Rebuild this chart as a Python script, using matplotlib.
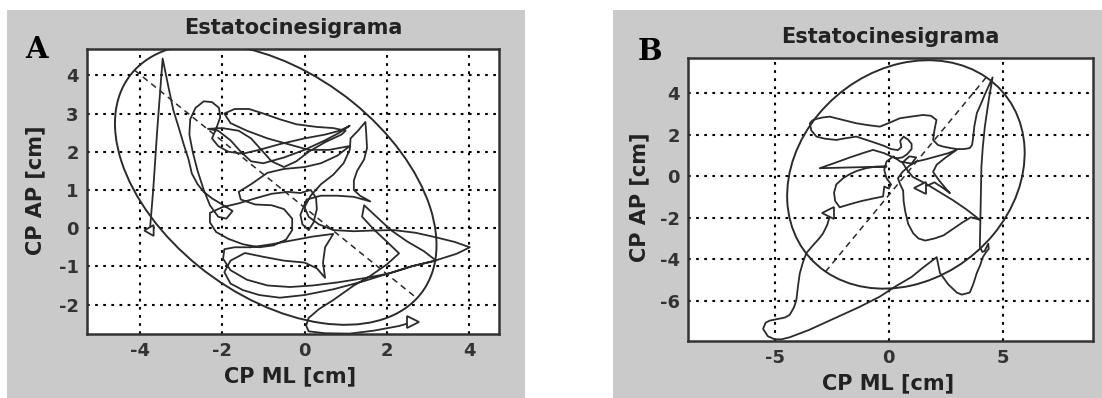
import matplotlib
matplotlib.use("Agg")
import numpy as np
import matplotlib.pyplot as plt
from matplotlib.patches import Rectangle, Ellipse

# ---------------- data ----------------
title_text = "Estatocinesigrama"
xlabel_text = "CP ML [cm]"
ylabel_text = "CP AP [cm]"

# Panel A: centre-of-pressure path (cm), stored in consecutive stretches
a_seg_x = [
    [-3.76, -3.68, -3.58, -3.45, -3.32, -3.19, -3.05, -2.94, -2.82, -2.74, -2.6, -2.45, -2.25, -2.05, -1.75],
    [-1.9, -2.1, -2.3, -2.45, -2.6, -2.72, -2.8, -2.78, -2.65, -2.45, -2.25, -2.08, -2.05, -2.15, -2.25, -2.1, -1.85],
    [-1.5, -1.1, -0.6, 0.0, 0.5, 0.85, 1.1, 0.85, 0.5, 0.0, -0.5, -1.0, -1.3, -1.55, -1.8, -2.1, -2.35, -2.0,
     -1.6, -1.3, -1.05, -0.8, -0.5],
    [-0.2, 0.1, 0.5, 0.9, 1.0, 0.7, 0.3, -0.2, -0.6, -1.0, -1.35, -1.7, -1.95, -1.8, -1.4, -0.9, -0.4, 0.1,
     0.6, 1.1, 0.8, 0.4, 0.0, -0.5],
    [-0.9, -1.3, -1.6, -1.55, -1.2, -0.8, -0.5, -0.3, -0.3, -0.45, -0.75, -1.1, -1.5, -1.85, -2.15, -2.3, -2.3,
     -2.0, -1.6, -1.2, -0.8, -0.4, -0.1, 0.15, 0.28, 0.3, 0.22, 0.1, -0.05, -0.1, 0.05, 0.4, 0.8, 1.2, 1.6],
    [1.35, 1.2, 1.2, 1.28, 1.45, 1.52, 1.5, 1.48, 1.3, 1.12, 1.1, 0.95, 0.7, 0.4, 0.15, 0.0, 0.1, 0.35, 0.7, 1.2,
     1.7, 2.17, 2.7, 3.2, 3.65, 4.02, 3.7, 3.2, 2.6, 2.08, 1.5, 0.8, 0.2, -0.35, -0.9, -1.4, -1.8, -1.98, -1.95,
     -1.7, -1.3, -0.8, -0.3, 0.2, 0.7],
    [0.5, 0.45, 0.5, 0.3, 0.0, -0.5, -1.0, -1.45, -1.8, -1.95, -1.8, -1.5, -1.1, -0.6, 0.0, 0.7, 1.4, 2.0, 2.6, 3.2],
    [2.9, 2.5, 2.1, 1.75, 1.45, 1.4, 1.7, 2.0, 2.3, 2.0, 1.6, 1.2, 0.7, 0.35, 0.1, 0.04, 0.1, 0.5, 1.1, 1.7,
     2.3, 2.65],
]
a_seg_y = [
    [-0.05, 1.0, 2.6, 4.44, 3.75, 3.09, 2.6, 2.2, 1.8, 1.43, 1.15, 0.95, 0.78, 0.65, 0.45],
    [0.25, 0.3, 0.6, 1.0, 1.5, 2.0, 2.45, 2.85, 3.15, 3.32, 3.3, 3.15, 2.9, 2.6, 2.35, 2.15, 2.0],
    [1.95, 2.05, 2.2, 2.35, 2.45, 2.55, 2.68, 2.5, 2.3, 2.05, 1.85, 1.7, 1.75, 2.0, 2.3, 2.55, 2.6, 2.62,
     2.55, 2.35, 2.05, 1.75, 1.6],
    [1.75, 2.0, 2.25, 2.45, 2.55, 2.62, 2.65, 2.72, 2.85, 3.0, 3.12, 3.12, 3.0, 2.75, 2.55, 2.35, 2.2, 2.05,
     2.05, 2.15, 1.9, 1.7, 1.6, 1.55],
    [1.45, 1.15, 0.95, 0.75, 0.62, 0.6, 0.5, 0.25, -0.05, -0.3, -0.45, -0.5, -0.42, -0.28, -0.1, 0.15, 0.4,
     0.55, 0.65, 0.78, 0.9, 0.95, 0.92, 1.0, 0.8, 0.5, 0.15, -0.05, 0.1, 0.35, 0.75, 0.85, 0.85, 0.82, 0.7],
    [0.85, 1.0, 1.25, 1.5, 1.8, 2.1, 2.5, 2.78, 2.55, 2.35, 2.05, 1.7, 1.4, 1.15, 0.85, 0.55, 0.3, 0.1, -0.05, -0.08,
     -0.06, -0.05, -0.12, -0.24, -0.36, -0.5, -0.67, -0.84, -1.0, -1.18, -1.3, -1.42, -1.5, -1.54, -1.5, -1.35,
     -1.1, -0.8, -0.55, -0.5, -0.5, -0.42, -0.32, -0.22, -0.15],
    [-0.5, -0.9, -1.3, -1.05, -0.9, -0.85, -0.75, -0.65, -0.85, -1.15, -1.45, -1.62, -1.75, -1.82, -1.75, -1.6,
     -1.4, -1.2, -1.0, -0.85],
    [-0.6, -0.35, -0.05, 0.3, 0.6, 0.3, -0.05, -0.35, -0.66, -0.95, -1.25, -1.5, -1.88, -2.12, -2.35, -2.55,
     -2.7, -2.75, -2.76, -2.68, -2.56, -2.45],
]

# Panel A: confidence ellipse (centre, semi-axes, angle in degrees)
a_ell_center = (-0.7, 1.15)
a_ell_axes = (4.55, 2.85)
a_ell_angle = -41.0

# Panel B: centre-of-pressure path (cm)
b_seg_x = [
    [1.36, 1.7, 2.0, 2.35, 2.68, 2.5, 2.2, 1.94, 2.1, 2.5, 2.97, 2.6, 2.1, 1.6, 1.2, 0.9, 0.6, 0.4, 0.5, 0.63,
     0.65, 0.72, 0.85, 1.07, 1.3, 1.6, 2.0, 2.4, 2.8, 3.2, 3.6, 3.99, 3.4, 2.8, 2.2, 1.6, 1.05],
    [0.8, 0.6, 0.9, 1.2, 1.0, 0.5, 0.2, -0.1, -0.2, -0.1, 0.1, 0.0, -0.2, -0.25, -0.7, -1.2, -1.7, -2.15, -2.35,
     -2.4, -2.3, -2.0, -1.7, -1.4, -1.0, -0.6, -0.1, -0.8, -1.5, -2.3, -3.03, -2.4, -1.7, -1.1, -0.69, -0.2,
     0.3, 0.6, 0.8, 1.0, 1.0, 0.85, 0.65, 0.5, 0.55, 0.4, 0.1, -0.2],
    [-0.54, -1.0, -1.42, -1.9, -2.3, -2.8, -3.17, -3.4, -3.46, -3.35, -3.17, -2.9, -2.59, -2.0, -1.42, -0.9,
     -0.39, 0.0, 0.48, 0.9, 1.5, 1.85, 2.09, 2.0, 1.94, 2.15, 2.38, 2.7, 2.98, 3.3, 3.55, 3.65, 3.69, 3.75,
     3.86, 4.05, 4.2, 4.55],
    [4.4, 4.21, 4.12, 4.06, 4.04, 4.02, 4.0, 3.99, 4.1, 4.2, 4.36, 4.38, 4.3, 4.12, 4.0, 3.86, 3.7, 3.55, 3.2,
     2.98, 2.6, 2.24, 2.1],
    [1.5, 1.0, 0.3, -0.4, -1.3, -2.5, -3.5, -4.34, -4.7, -5.0, -5.3, -5.51, -5.4, -5.22, -4.9, -4.55, -4.34,
     -4.15, -4.05, -3.98, -3.9, -3.75, -3.61, -3.3, -3.05, -2.88, -2.7, -2.59, -2.66],
]
b_seg_y = [
    [-0.58, -0.45, -0.3, -0.55, -0.82, -0.6, -0.2, 0.2, 0.55, 0.9, 1.26, 1.1, 0.95, 0.8, 0.7, 0.5, 0.2, -0.1,
     -0.4, -0.7, -1.2, -1.7, -2.3, -2.75, -3.0, -3.1, -3.0, -2.85, -2.55, -2.25, -1.98, -2.1, -1.6, -1.15,
     -0.75, -0.35, -0.04],
    [0.3, 0.65, 0.95, 0.9, 0.6, 0.7, 0.95, 0.7, 0.3, -0.1, -0.4, -0.6, -0.5, -0.98, -1.08, -1.2, -1.35, -1.5,
     -1.2, -0.8, -0.4, -0.1, 0.1, 0.25, 0.38, 0.45, 0.46, 0.44, 0.42, 0.4, 0.38, 0.62, 0.9, 1.12, 1.26, 1.1,
     0.85, 0.9, 1.05, 1.3, 1.55, 1.75, 1.9, 1.7, 1.4, 1.25, 1.3, 1.45],
    [1.58, 1.75, 1.9, 1.82, 1.74, 1.8, 1.9, 2.2, 2.54, 2.68, 2.75, 2.82, 2.86, 2.7, 2.54, 2.45, 2.38, 2.55,
     2.78, 2.85, 2.94, 2.9, 2.7, 2.2, 1.74, 1.5, 1.42, 1.35, 1.3, 1.3, 1.35, 1.5, 1.8, 2.4, 3.03, 3.5, 3.9,
     4.75],
    [3.8, 2.38, 1.4, 0.46, -0.6, -1.5, -2.5, -3.4, -3.65, -3.6, -3.25, -3.5, -3.6, -3.9, -4.3, -4.65, -5.2,
     -5.6, -5.7, -5.6, -5.2, -4.65, -3.9],
    [-4.4, -4.85, -5.3, -5.8, -6.3, -6.9, -7.4, -7.75, -7.85, -7.85, -7.7, -7.35, -7.05, -6.95, -6.88, -6.8,
     -6.67, -6.3, -5.95, -5.3, -4.67, -4.1, -3.7, -3.3, -3.0, -2.75, -2.35, -1.95, -1.79],
]

b_ell_center = (0.75, 0.08)
b_ell_axes = (5.85, 4.8)
b_ell_angle = 53.0

a_xticks = [-4, -2, 0, 2, 4]
a_yticks = [-2, -1, 0, 1, 2, 3, 4]
b_xticks = [-5, 0, 5]
b_yticks = [-6, -4, -2, 0, 2, 4]

a_x = np.concatenate(a_seg_x)
a_y = np.concatenate(a_seg_y)
b_x = np.concatenate(b_seg_x)
b_y = np.concatenate(b_seg_y)

# ---------------- layout ----------------
W, H = 1102, 398
fig = plt.figure(figsize=(W / 100, H / 100), dpi=100)
fig.patch.set_facecolor("white")

panel_grey = "#cacaca"
ink = "#2b2b2b"
fig.patches.append(Rectangle((7 / W, 0), 518 / W, 388 / H, transform=fig.transFigure,
                             facecolor=panel_grey, edgecolor="none", zorder=-10))
fig.patches.append(Rectangle((613 / W, 0), 489 / W, 388 / H, transform=fig.transFigure,
                             facecolor=panel_grey, edgecolor="none", zorder=-10))


def px_axes(left, top, right, bottom):
    return [left / W, (H - bottom) / H, (right - left) / W, (bottom - top) / H]


def draw_panel(ax, xs, ys, center, axes_len, angle, xlim, ylim, xticks, yticks,
               start_marker, end_marker, letter, letter_xy, xlab_xy, ylab_xy):
    ax.set_facecolor("white")
    ax.set_xlim(*xlim)
    ax.set_ylim(*ylim)
    ax.set_xticks(xticks)
    ax.set_yticks(yticks)
    ax.set_xticklabels([str(t) for t in xticks])
    ax.set_yticklabels([str(t) for t in yticks])
    ax.tick_params(length=0, labelsize=13, labelcolor="#333333", pad=6)
    for lab in ax.get_xticklabels() + ax.get_yticklabels():
        lab.set_fontweight("bold")
    ax.grid(True, color="black", linestyle=(0, (1.3, 2.6)), linewidth=1.5)
    ax.set_axisbelow(True)
    for sp in ax.spines.values():
        sp.set_linewidth(1.8)
        sp.set_color("#333333")

    # confidence ellipse and its major axis
    ell = Ellipse(center, 2 * axes_len[0], 2 * axes_len[1], angle=angle,
                  facecolor="none", edgecolor=ink, linewidth=1.4, zorder=3)
    ax.add_patch(ell)
    th = np.deg2rad(angle)
    ux, uy = np.cos(th) * axes_len[0], np.sin(th) * axes_len[0]
    ax.plot([center[0] - ux, center[0] + ux], [center[1] - uy, center[1] + uy],
            color=ink, linewidth=1.1, linestyle=(0, (4, 3)), zorder=3)

    # stabilogram trace
    ax.plot(xs, ys, color=ink, linewidth=1.3, zorder=4, solid_joinstyle="round")
    ax.plot(xs[0], ys[0], marker=start_marker, markersize=9, markerfacecolor="white",
            markeredgecolor=ink, markeredgewidth=1.3, zorder=5)
    ax.plot(xs[-1], ys[-1], marker=end_marker, markersize=9, markerfacecolor="white",
            markeredgecolor=ink, markeredgewidth=1.3, zorder=5)

    ax.set_title(title_text, fontsize=15, fontweight="bold", color="#222222", pad=11)
    ax.set_xlabel(xlabel_text, fontsize=15, fontweight="bold", color="#222222")
    ax.set_ylabel(ylabel_text, fontsize=15, fontweight="bold", color="#222222")
    ax.xaxis.set_label_coords(*xlab_xy)
    ax.yaxis.set_label_coords(*ylab_xy)
    fig.text(letter_xy[0], letter_xy[1], letter,
             family="DejaVu Serif", fontsize=21, fontweight="bold", color="black",
             ha="center", va="center")


axA = fig.add_axes(px_axes(87, 49, 499, 334))
draw_panel(axA, a_x, a_y, a_ell_center, a_ell_axes, a_ell_angle,
           (-5.29, 4.73), (-2.77, 4.69), a_xticks, a_yticks,
           (3, 0, -150), ">", "A", (37 / W, (H - 50) / H),
           (0.493, -0.115), (-0.10, 0.505))

axB = fig.add_axes(px_axes(688, 58, 1093, 341))
draw_panel(axB, b_x, b_y, b_ell_center, b_ell_axes, b_ell_angle,
           (-8.8, 8.95), (-7.93, 5.68), b_xticks, b_yticks,
           "<", "<", "B", (650 / W, (H - 52) / H),
           (0.494, -0.115), (-0.095, 0.509))

fig.savefig("out.png", dpi=100)
